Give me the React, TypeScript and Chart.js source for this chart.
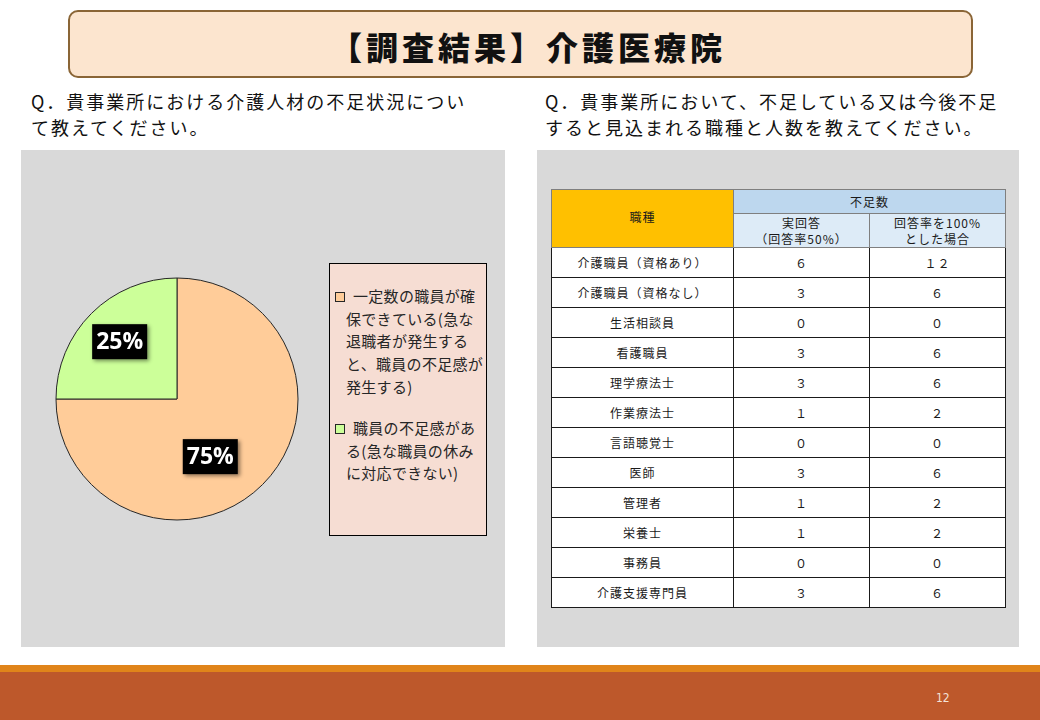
import React, { useEffect, useRef } from "react";
import { Chart, registerables } from "chart.js";

Chart.register(...registerables);

const TITLE = "【調査結果】介護医療院";
const LEFT_QUESTION = ["Q．貴事業所における介護人材の不足状況につい", "て教えてください。"];
const RIGHT_QUESTION = ["Q．貴事業所において、不足している又は今後不足", "すると見込まれる職種と人数を教えてください。"];

// Pie chart data
const PIE_CATEGORIES: string[][] = [
  ["一定数の職員が確", "保できている(急な", "退職者が発生する", "と、職員の不足感が", "発生する)"],
  ["職員の不足感があ", "る(急な職員の休み", "に対応できない)"],
];
const PIE_VALUES = [75, 25];
const PIE_COLORS = ["#FFCC99", "#CCFF99"];

// Table data
const TABLE_HEAD_JOB = "職種";
const TABLE_HEAD_GROUP = "不足数";
const TABLE_HEAD_COLS = [["実回答", "（回答率50%）"], ["回答率を100%", "とした場合"]];
const JOB_TYPES = [
  "介護職員（資格あり）",
  "介護職員（資格なし）",
  "生活相談員",
  "看護職員",
  "理学療法士",
  "作業療法士",
  "言語聴覚士",
  "医師",
  "管理者",
  "栄養士",
  "事務員",
  "介護支援専門員",
];
const SHORTAGE_ACTUAL = [6, 3, 0, 3, 3, 1, 0, 3, 1, 1, 0, 3];
const SHORTAGE_FULL = [12, 6, 0, 6, 6, 2, 0, 6, 2, 2, 0, 6];
const PAGE_NUMBER = "12";

// label placement style (fraction of radius, angle shift in degrees)
const LABEL_RADIUS = [0.55, 0.67];
const LABEL_ANGLE_SHIFT = [15, 0];

const JP = '"Noto Sans CJK JP", "Noto Sans", sans-serif';

const fw = (n: number) =>
  String(n).replace(/[0-9]/g, (d) => String.fromCharCode(d.charCodeAt(0) + 0xfee0));

const labelPlugin = {
  id: "boxLabels",
  afterDatasetsDraw(chart: any) {
    const ctx = chart.ctx as CanvasRenderingContext2D;
    const meta = chart.getDatasetMeta(0);
    const data = chart.data.datasets[0].data as number[];
    const total = data.reduce((a, b) => a + b, 0);
    meta.data.forEach((arc: any, i: number) => {
      const p = arc.getProps(["x", "y", "startAngle", "endAngle", "outerRadius"], true);
      const mid = (p.startAngle + p.endAngle) / 2 + (LABEL_ANGLE_SHIFT[i] * Math.PI) / 180;
      const r = p.outerRadius * LABEL_RADIUS[i];
      const cx = p.x + Math.cos(mid) * r;
      const cy = p.y + Math.sin(mid) * r;
      const text = Math.round((data[i] / total) * 100) + "%";
      ctx.save();
      ctx.font = 'bold 23px "Open Sans", sans-serif';
      const w = ctx.measureText(text).width + 8;
      const h = 35;
      ctx.shadowColor = "rgba(0,0,0,0.45)";
      ctx.shadowBlur = 4;
      ctx.shadowOffsetX = 2;
      ctx.shadowOffsetY = 2;
      ctx.fillStyle = "#000";
      ctx.fillRect(cx - w / 2, cy - h / 2, w, h);
      ctx.shadowColor = "transparent";
      ctx.fillStyle = "#fff";
      ctx.textAlign = "center";
      ctx.textBaseline = "middle";
      ctx.fillText(text, cx, cy + 1);
      ctx.restore();
    });
  },
};

function PieChart() {
  const ref = useRef<HTMLCanvasElement>(null);
  useEffect(() => {
    if (!ref.current) return;
    const chart = new Chart(ref.current, {
      type: "pie",
      data: {
        labels: PIE_CATEGORIES.map((l) => l.join("")),
        datasets: [
          {
            data: PIE_VALUES,
            backgroundColor: PIE_COLORS,
            borderColor: "#262626",
            borderWidth: 1,
            hoverOffset: 0,
          },
        ],
      },
      options: {
        responsive: false,
        animation: false,
        events: [],
        radius: 121,
        layout: { padding: 0 },
        plugins: { legend: { display: false }, tooltip: { enabled: false } },
      } as any,
      plugins: [labelPlugin],
    });
    return () => chart.destroy();
  }, []);
  return (
    <canvas
      ref={ref}
      width={260}
      height={260}
      style={{ position: "absolute", left: 47, top: 269, width: 260, height: 260 }}
    />
  );
}

const LEGEND_ITEM_TOPS = [21, 153];

function Legend() {
  return (
    <div
      style={{
        position: "absolute",
        left: 329,
        top: 263,
        width: 156,
        height: 271,
        background: "#F6DDD3",
        border: "1px solid #000",
        fontFamily: JP,
        fontSize: 15,
        color: "#262626",
      }}
    >
      {PIE_CATEGORIES.map((lines, i) => (
        <div key={i} style={{ position: "absolute", left: 0, top: LEGEND_ITEM_TOPS[i] }}>
          <div
            style={{
              position: "absolute",
              left: 5,
              top: 7,
              width: 8,
              height: 8,
              background: PIE_COLORS[i],
              border: "1px solid #262626",
            }}
          />
          {lines.map((t, j) => (
            <div
              key={j}
              style={{
                position: "absolute",
                left: j === 0 ? 23 : 16,
                top: j * 22.7,
                whiteSpace: "nowrap",
                lineHeight: "22px",
                letterSpacing: 0.3,
              }}
            >
              {t}
            </div>
          ))}
        </div>
      ))}
    </div>
  );
}

function Question({ lines, left }: { lines: string[]; left: number }) {
  return (
    <div
      style={{
        position: "absolute",
        left,
        top: 88,
        fontFamily: JP,
        fontSize: 18,
        letterSpacing: 2,
        lineHeight: "26px",
        color: "#111",
      }}
    >
      {lines.map((l, i) => (
        <div key={i} style={{ whiteSpace: "nowrap" }}>
          {l}
        </div>
      ))}
    </div>
  );
}

function ShortageTable() {
  const cell: React.CSSProperties = {
    border: "1px solid #1a1a1a",
    textAlign: "center",
    verticalAlign: "middle",
    padding: 0,
    height: 29,
  };
  const head: React.CSSProperties = {
    textAlign: "center",
    verticalAlign: "middle",
    padding: 0,
    border: "1px solid #7f7f7f",
    lineHeight: "16px",
  };
  return (
    <table
      style={{
        position: "absolute",
        left: 551,
        top: 189,
        width: 454,
        borderCollapse: "collapse",
        tableLayout: "fixed",
        fontFamily: JP,
        fontSize: 12,
        letterSpacing: 1,
        color: "#1a1a1a",
        background: "#fff",
      }}
    >
      <colgroup>
        <col style={{ width: 182 }} />
        <col style={{ width: 136 }} />
        <col style={{ width: 136 }} />
      </colgroup>
      <tbody>
        <tr style={{ height: 24 }}>
          <td rowSpan={2} style={{ ...head, background: "#FFC000", paddingBottom: 4 }}>
            {TABLE_HEAD_JOB}
          </td>
          <td colSpan={2} style={{ ...head, background: "#BDD7EE" }}>
            {TABLE_HEAD_GROUP}
          </td>
        </tr>
        <tr style={{ height: 34 }}>
          {TABLE_HEAD_COLS.map((c, i) => (
            <td key={i} style={{ ...head, background: "#DDEBF7" }}>
              {c[0]}
              <br />
              {c[1]}
            </td>
          ))}
        </tr>
        {JOB_TYPES.map((job, i) => (
          <tr key={job} style={{ height: 30 }}>
            <td style={cell}>{job}</td>
            <td style={cell}>{fw(SHORTAGE_ACTUAL[i])}</td>
            <td style={cell}>{fw(SHORTAGE_FULL[i])}</td>
          </tr>
        ))}
      </tbody>
    </table>
  );
}

export default function App() {
  return (
    <div
      style={{
        position: "absolute",
        left: 0,
        top: 0,
        width: 1040,
        height: 720,
        background: "#fff",
        overflow: "hidden",
      }}
    >
      {/* Title */}
      <div
        style={{
          position: "absolute",
          left: 68,
          top: 10,
          width: 901,
          height: 64,
          background: "#FCE5CF",
          border: "2px solid #8A6536",
          borderRadius: 10,
        }}
      />
      <div
        style={{
          position: "absolute",
          left: 330,
          top: 24,
          fontFamily: JP,
          fontSize: 32,
          fontWeight: 900,
          letterSpacing: 4,
          lineHeight: "44px",
          color: "#111",
          whiteSpace: "nowrap",
        }}
      >
        {TITLE}
      </div>

      <Question lines={LEFT_QUESTION} left={31} />
      <Question lines={RIGHT_QUESTION} left={545} />

      {/* Panels */}
      <div style={{ position: "absolute", left: 21, top: 150, width: 484, height: 497, background: "#D9D9D9" }} />
      <div style={{ position: "absolute", left: 537, top: 150, width: 482, height: 497, background: "#D9D9D9" }} />

      <PieChart />
      <Legend />
      <ShortageTable />

      {/* Footer */}
      <div style={{ position: "absolute", left: 0, top: 665, width: 1040, height: 7, background: "#E0841A" }} />
      <div style={{ position: "absolute", left: 0, top: 672, width: 1040, height: 48, background: "#BD582B" }} />
      <div
        style={{
          position: "absolute",
          left: 936,
          top: 691,
          fontFamily: '"Liberation Sans Narrow", "DejaVu Sans Condensed", sans-serif',
          fontSize: 12,
          color: "#F3E3D8",
        }}
      >
        {PAGE_NUMBER}
      </div>
    </div>
  );
}
